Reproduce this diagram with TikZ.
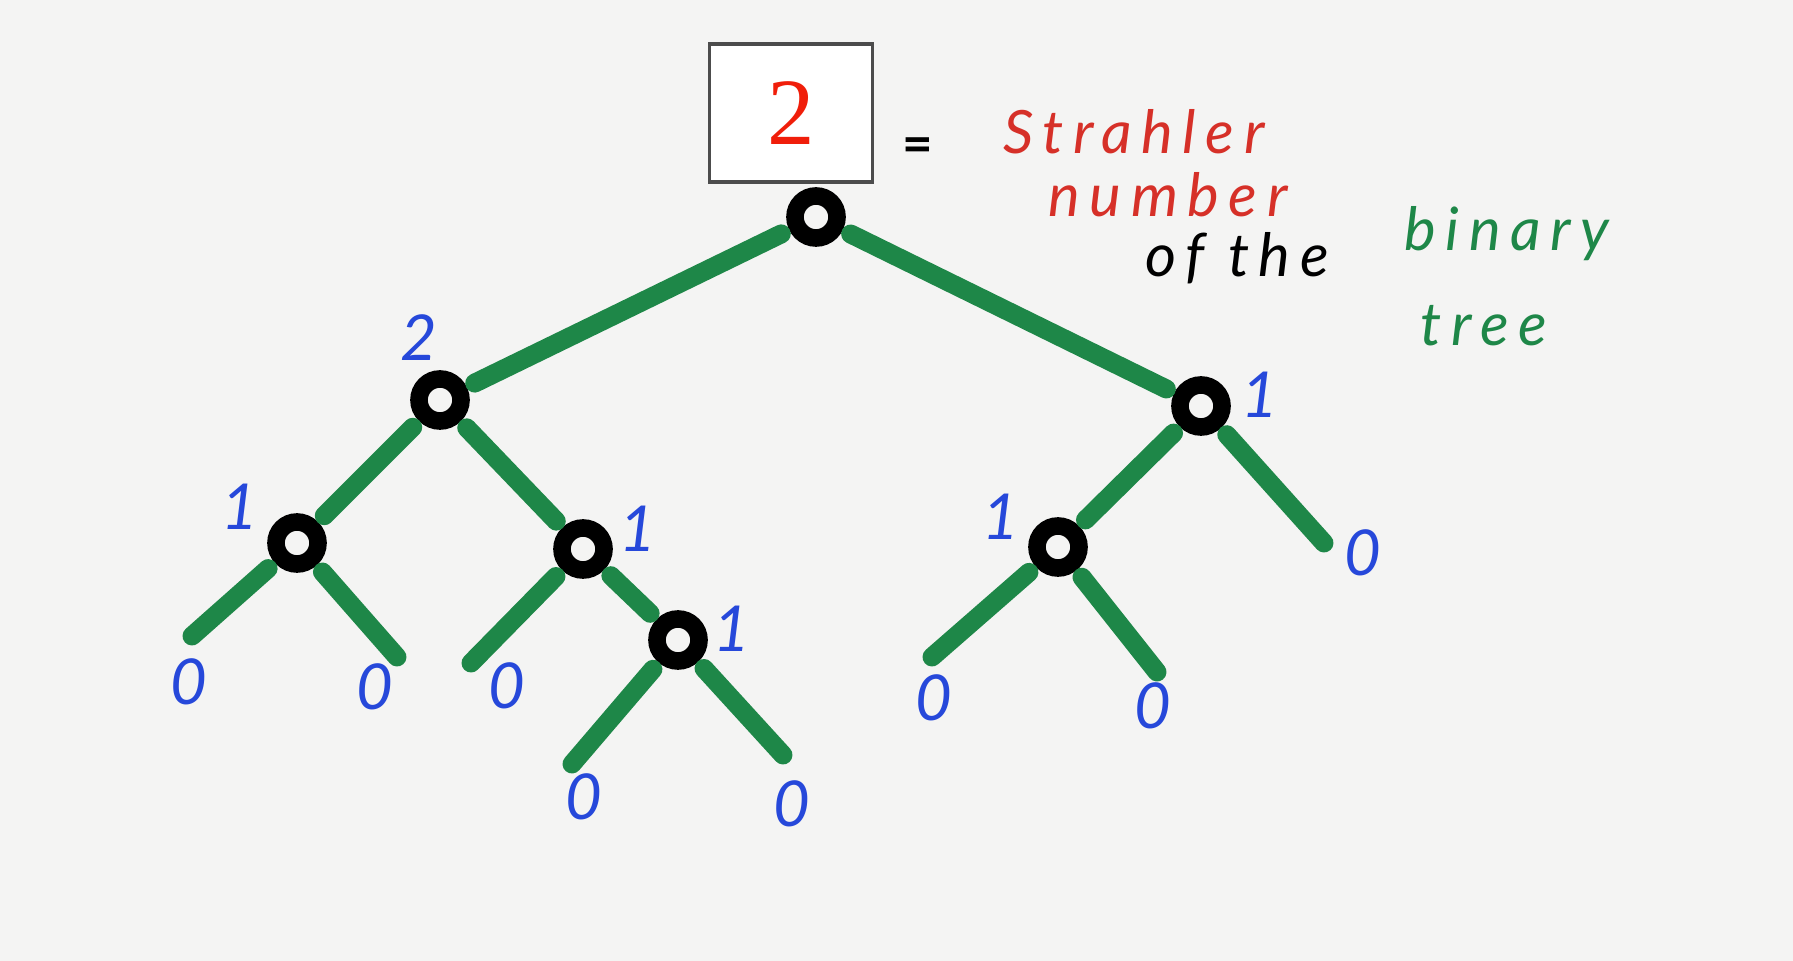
\documentclass[tikz,border=0pt]{standalone}
\usepackage{fontspec}
\newfontfamily\handfont[LetterSpace=11]{Lato}
\newfontfamily\notefont[LetterSpace=16]{Lato}
\newfontfamily\boxfont{Liberation Serif}
\usepackage{xcolor}
\usepackage{tikz}
\usetikzlibrary{positioning}

\definecolor{paper}{RGB}{244,244,243}
\definecolor{stem}{RGB}{30,135,72}
\definecolor{ink}{RGB}{38,72,218}
\definecolor{pen}{RGB}{214,48,40}
\definecolor{boxred}{RGB}{240,30,10}

\begin{document}
\begin{tikzpicture}[x=0.01cm, y=-0.01cm,
    vertex/.style={circle, draw=black, line width=5pt, minimum size=0.42cm, inner sep=0pt},
    branch/.style={draw=stem, line width=5.4pt, line cap=round, shorten <=2.5pt, shorten >=2.5pt},
    stub/.style={draw=stem, line width=5.4pt, line cap=round, shorten <=2.5pt},
    num/.style={text=ink, font=\handfont\itshape\fontsize{18}{18}\selectfont},
    note/.style={font=\notefont\itshape\fontsize{17}{17}\selectfont, inner sep=0pt},
]
    % Paper
    \fill[paper] (0,0) rectangle (1793,961);
    \useasboundingbox (0,0) rectangle (1793,961);

    % Value box
    \node[draw=black!70, line width=0.9pt, fill=white, minimum width=1.63cm, minimum height=1.38cm,
          text=boxred, font=\boxfont\fontsize{27}{27}\selectfont] (val) at (791,113) {2};
    \node[font=\handfont\bfseries\fontsize{15}{15}\selectfont] (eq) at (918,150) {=};

    % Annotation
    \node[note, text=pen] (w1) at (1134,132) {Strahler};
    \node[note, text=pen] (w2) at (1168,195) {number};
    \node[note, text=black] (w3) at (1237,258) {of the};
    \node[note, text=stem] (w4) at (1507,234) {binary};
    \node[note, text=stem] (w5) at (1484,326) {tree};

    % Inner vertices
    \node[vertex] (root) at (816,217) {};
    \node[vertex] (l)    at (440,400) {};
    \node[vertex] (r)    at (1201,406) {};
    \node[vertex] (ll)   at (297,543) {};
    \node[vertex] (lr)   at (583,549) {};
    \node[vertex] (lrr)  at (678,640) {};
    \node[vertex] (rl)   at (1058,547) {};

    % Leaf ends
    \coordinate (llA)  at (192,636);
    \coordinate (llB)  at (397,657);
    \coordinate (lrA)  at (471,663);
    \coordinate (lrrA) at (572,764);
    \coordinate (lrrB) at (783,755);
    \coordinate (rlA)  at (932,657);
    \coordinate (rlB)  at (1157,672);
    \coordinate (rB)   at (1324,543);

    % Branches
    \draw[branch] (root) -- (l);
    \draw[branch] (root) -- (r);
    \draw[branch] (l) -- (ll);
    \draw[branch] (l) -- (lr);
    \draw[branch] (lr) -- (lrr);
    \draw[branch] (r) -- (rl);
    \draw[stub] (ll) -- (llA);
    \draw[stub] (ll) -- (llB);
    \draw[stub] (lr) -- (lrA);
    \draw[stub] (lrr) -- (lrrA);
    \draw[stub] (lrr) -- (lrrB);
    \draw[stub] (rl) -- (rlA);
    \draw[stub] (rl) -- (rlB);
    \draw[stub] (r) -- (rB);

    % Strahler numbers
    \node[num] (nl)   at (419,338) {2};
    \node[num] (nr)   at (1260,395) {1};
    \node[num] (nll)  at (240,507) {1};
    \node[num] (nlr)  at (638,529) {1};
    \node[num] (nlrr) at (732,629) {1};
    \node[num] (nrl)  at (1001,517) {1};
    \node[num] (z1) at (189,682) {0};
    \node[num] (z2) at (375,687) {0};
    \node[num] (z3) at (507,686) {0};
    \node[num] (z4) at (584,797) {0};
    \node[num] (z5) at (792,804) {0};
    \node[num] (z6) at (934,698) {0};
    \node[num] (z7) at (1153,706) {0};
    \node[num] (z8) at (1363,553) {0};
\end{tikzpicture}
\end{document}
